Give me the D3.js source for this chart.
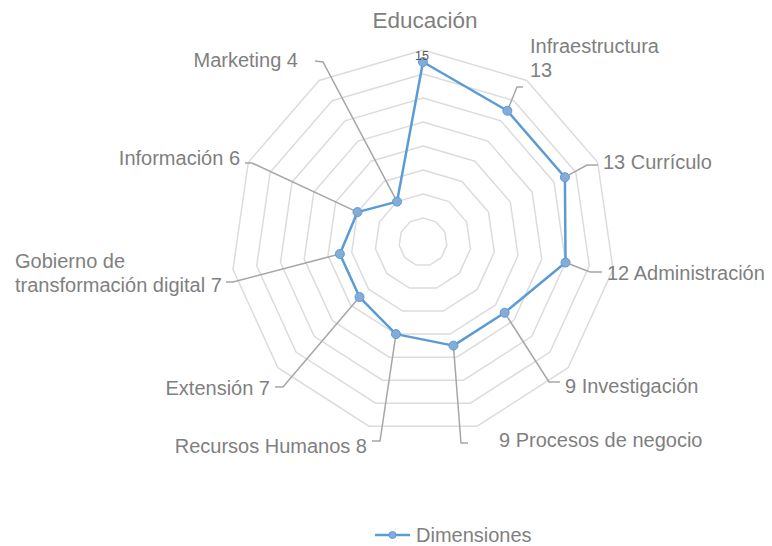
<!DOCTYPE html>
<html>
<head>
<meta charset="utf-8">
<script src="https://cdn.jsdelivr.net/npm/d3@7"></script>
<style>
  body { margin: 0; background: #fff; }
  text { font-family: "Liberation Sans", Arial, sans-serif; fill: #7f7f7f; }
</style>
</head>
<body>
<script>
let svgWidth = 772
let svgHeight = 546

// data
let categories = ["Educación", "Infraestructura", "Currículo", "Administración", "Investigación",
    "Procesos de negocio", "Recursos Humanos", "Extensión", "Gobierno de transformación digital",
    "Información", "Marketing"]
let values = [15, 13, 13, 12, 9, 9, 8, 7, 7, 6, 4]
let gridTicks = [2, 4, 6, 8, 10, 12, 14, 16]
let seriesName = "Dimensiones"

let cx = 423, cy = 242
let maxR = 192
let n = categories.length

let rScale = d3.scaleLinear().domain([0, 16]).range([0, maxR])
let angle = d3.scaleLinear().domain([0, n]).range([0, 2 * Math.PI])

function pt(i, v) {
    let a = angle(i), r = rScale(v)
    return [cx + r * Math.sin(a), cy - r * Math.cos(a)]
}

// label layout (text lines built from categories + values)
let labelLayout = [
    { lines: d => [d.c], x: 425, y: 28, anchor: "middle", size: 22.5, leader: null },
    { lines: d => [d.c, d.v], x: 530, y: 53, anchor: "start", leader: [[523, 87], [517, 87]] },
    { lines: d => [d.v + " " + d.c], x: 603, y: 169, anchor: "start", leader: [[598, 165], [587, 165]] },
    { lines: d => [d.v + " " + d.c], x: 607, y: 280, anchor: "start", leader: [[602, 272], [590, 272]] },
    { lines: d => [d.v + " " + d.c], x: 565, y: 393, anchor: "start", leader: [[560, 382], [549, 382]] },
    { lines: d => [d.v + " " + d.c], x: 499, y: 447, anchor: "start", leader: [[468, 443], [461, 443]] },
    { lines: d => [d.c + " " + d.v], x: 367, y: 453, anchor: "end", leader: [[372, 441], [380, 441]] },
    { lines: d => [d.c + " " + d.v], x: 270, y: 395, anchor: "end", leader: [[275, 387], [283, 387]] },
    { lines: d => ["Gobierno de", "transformación digital " + d.v], x: 15, y: 268, anchor: "start", leader: [[226, 282], [233, 282]] },
    { lines: d => [d.c + " " + d.v], x: 240, y: 165, anchor: "end", leader: [[245, 163], [252, 163]] },
    { lines: d => [d.c + " " + d.v], x: 298, y: 67, anchor: "end", leader: [[315, 61], [323, 62]] }
]

let svg = d3.select("body")
    .append("svg")
    .attr("width", svgWidth)
    .attr("height", svgHeight)

// grid rings
let ring = d3.line()
svg.append("g")
    .selectAll("path")
    .data(gridTicks)
    .enter()
    .append("path")
    .attr("d", function (t) {
        return ring(d3.range(n).map(i => pt(i, t))) + "Z"
    })
    .attr("fill", "none")
    .attr("stroke", "#dcdcdc")
    .attr("stroke-width", 1.5)

let data = categories.map((c, i) => ({ c: c, v: values[i], i: i }))

// leader lines
svg.append("g")
    .selectAll("path")
    .data(data.filter(d => labelLayout[d.i].leader))
    .enter()
    .append("path")
    .attr("d", function (d) {
        let l = labelLayout[d.i].leader
        return d3.line()([l[0], l[1], pt(d.i, d.v)])
    })
    .attr("fill", "none")
    .attr("stroke", "#a6a6a6")
    .attr("stroke-width", 1.5)

// series
let radial = d3.lineRadial()
    .angle(d => angle(d.i))
    .radius(d => rScale(d.v))
    .curve(d3.curveLinearClosed)

svg.append("path")
    .datum(data)
    .attr("transform", "translate(" + cx + "," + cy + ")")
    .attr("d", radial)
    .attr("fill", "none")
    .attr("stroke", "#5b9bd5")
    .attr("stroke-width", 2.5)
    .attr("stroke-linejoin", "round")

svg.append("g")
    .selectAll("circle")
    .data(data)
    .enter()
    .append("circle")
    .attr("cx", d => pt(d.i, d.v)[0])
    .attr("cy", d => pt(d.i, d.v)[1])
    .attr("r", 4.5)
    .attr("fill", "#85abd8")
    .attr("stroke", "#5b9bd5")
    .attr("stroke-width", 1)

// value label for the first category
svg.append("text")
    .attr("x", pt(0, values[0])[0] - 1)
    .attr("y", pt(0, values[0])[1] - 2)
    .attr("text-anchor", "middle")
    .attr("font-size", 12.5)
    .style("fill", "#595959")
    .text(values[0])

// category labels
let labels = svg.append("g")
    .selectAll("text")
    .data(data)
    .enter()
    .append("text")
    .attr("text-anchor", d => labelLayout[d.i].anchor)
    .attr("font-size", d => labelLayout[d.i].size || 20)

labels.selectAll("tspan")
    .data(d => labelLayout[d.i].lines(d).map(t => ({ t: t, l: labelLayout[d.i] })))
    .enter()
    .append("tspan")
    .attr("x", d => d.l.x)
    .attr("y", (d, k) => d.l.y + k * 24)
    .text(d => d.t)

// legend
let legend = svg.append("g")
legend.append("line")
    .attr("x1", 375).attr("x2", 410)
    .attr("y1", 535).attr("y2", 535)
    .attr("stroke", "#5b9bd5")
    .attr("stroke-width", 2.5)
legend.append("circle")
    .attr("cx", 392.5).attr("cy", 535)
    .attr("r", 3.5)
    .attr("fill", "#85abd8")
    .attr("stroke", "#5b9bd5")
legend.append("text")
    .attr("x", 416)
    .attr("y", 542)
    .attr("font-size", 20)
    .text(seriesName)
</script>
</body>
</html>
